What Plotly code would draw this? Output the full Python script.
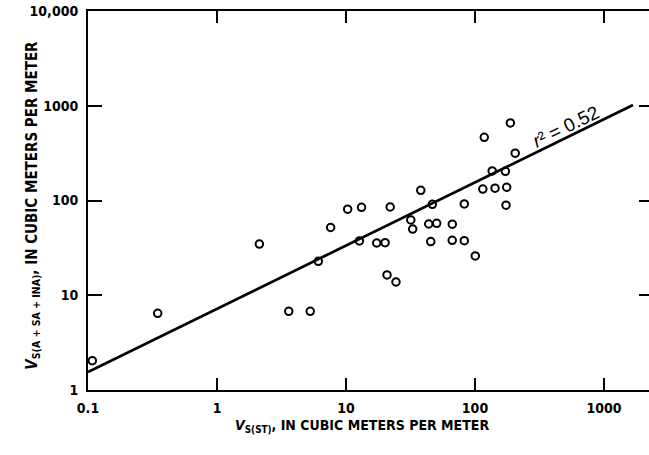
import math
import plotly.graph_objects as go

# scanned values, cubic meters per meter
vs_st = [0.108, 0.347, 2.13, 3.6, 5.28, 6.1, 7.6, 10.3, 13.2, 12.7, 17.3, 20.1,
         20.8, 24.4, 22.0, 31.8, 32.9, 38.0, 43.8, 50.5, 46.7, 45.4, 66.7, 66.6,
         82.6, 82.6, 100.5, 115, 118, 136, 143, 172, 176, 174, 188, 205]
vs_a_sa_ina = [2.04, 6.45, 34.7, 6.77, 6.77, 22.8, 51.9, 81, 84.8, 37.4, 35.6, 35.9,
               16.4, 13.8, 85.4, 62.3, 50, 128, 56.5, 57.5, 91.2, 36.9, 56.2, 38,
               91.9, 37.7, 26, 132, 464, 205, 135, 203, 138, 89.2, 658, 316]

# regression line end points
fit_x = [0.1, 1680]
fit_y = [1.55, 1020]

x_ticks = [0.1, 1, 10, 100, 1000]
x_labels = ["0.1", "1", "10", "100", "1000"]
y_ticks = [1, 10, 100, 1000, 10000]
y_labels = ["1", "10", "100", "1000", "10,000"]

x_range = [-1, 3.349]
y_range = [0, 4]

cond = "DejaVu Sans Condensed, Liberation Sans Narrow, Arial Narrow, sans-serif"
label_font = dict(family=cond, size=14, color="black", weight="bold")

fig = go.Figure()

# fitted line sits on the overlay axes (top/right) so those get drawn too
fig.add_trace(go.Scatter(
    x=fit_x, y=fit_y, mode="lines", xaxis="x2", yaxis="y2",
    line=dict(color="black", width=2.7),
    showlegend=False, hoverinfo="skip"
))

fig.add_trace(go.Scatter(
    x=vs_st, y=vs_a_sa_ina, mode="markers",
    marker=dict(symbol="circle-open", size=7.5, color="black", line=dict(width=2)),
    showlegend=False
))

fig.update_layout(
    xaxis=dict(
        type="log", range=x_range,
        tickvals=x_ticks, ticktext=x_labels,
        ticks="inside", ticklen=12, tickwidth=2, tickcolor="black",
        showline=True, linewidth=2, linecolor="black", mirror=True,
        showgrid=False, zeroline=False,
        tickfont=label_font, ticklabelstandoff=4, ticklabeloverflow="allow",
    ),
    yaxis=dict(
        type="log", range=y_range,
        tickvals=y_ticks, ticktext=y_labels,
        ticks="inside", ticklen=14, tickwidth=2, tickcolor="black",
        showline=True, linewidth=2, linecolor="black",
        showgrid=False, zeroline=False,
        tickfont=label_font, ticklabelstandoff=5, ticklabeloverflow="allow",
    ),
    xaxis2=dict(
        type="log", range=x_range, overlaying="x", side="top",
        tickvals=x_ticks[1:], showticklabels=False,
        ticks="inside", ticklen=12, tickwidth=2, tickcolor="black",
        showline=False, showgrid=False, zeroline=False,
    ),
    yaxis2=dict(
        type="log", range=y_range, overlaying="y", side="right",
        tickvals=y_ticks[1:4], showticklabels=False,
        ticks="inside", ticklen=10, tickwidth=2, tickcolor="black",
        showline=False, showgrid=False, zeroline=False,
    ),
)

fig.add_annotation(
    x=math.log10(507), y=math.log10(611), xref="x", yref="y",
    text="<i>r</i>² = 0.52", showarrow=False, textangle=-26,
    font=dict(family="Liberation Sans, Arial, sans-serif", size=19, color="black")
)

# axis titles
fig.add_annotation(
    x=0.488, y=-0.124, xref="paper", yref="paper",
    text="<i>V</i><sub>S(ST)</sub>, IN CUBIC METERS PER METER",
    showarrow=False, font=dict(family=cond, size=14, color="black", weight="bold")
)
fig.add_annotation(
    x=-0.121, y=0.488, xref="paper", yref="paper",
    text="<i>V</i><sub>S(A + SA + INA)</sub>, IN CUBIC METERS PER METER",
    showarrow=False, textangle=-90,
    font=dict(family=cond, size=15, color="black", weight="bold")
)

fig.update_layout(
    width=649, height=455,
    margin=dict(l=88, r=0, t=11, b=65),
    plot_bgcolor="white", paper_bgcolor="white",
)

# drop the browser's default body margin so the figure sits at 0,0
fig.write_html("out.html",
               config={"displayModeBar": False},
               post_script="document.body.style.margin='0';")
